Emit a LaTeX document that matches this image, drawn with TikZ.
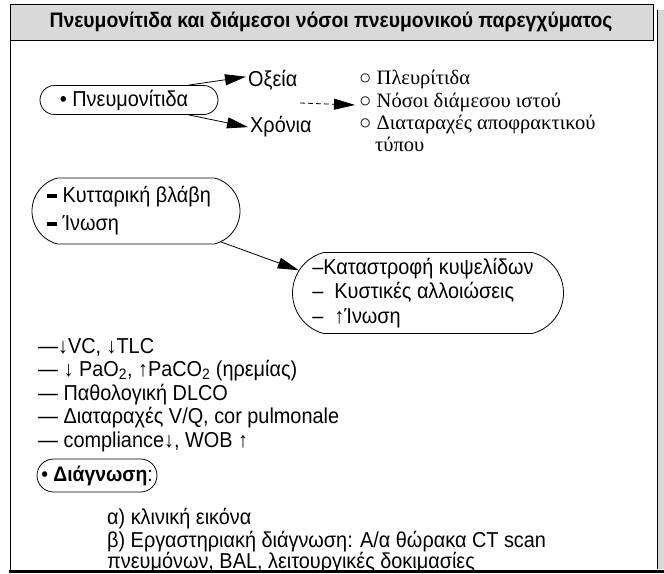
\documentclass[tikz,border=0pt]{standalone}
\usepackage{fontspec}
\setmainfont[FakeStretch=0.92]{Liberation Sans}
\newfontfamily\serifgr{Liberation Serif}
\usetikzlibrary{arrows.meta,shapes.misc,positioning}

\begin{document}
\begin{tikzpicture}[x=1pt,y=-1pt,
  txt/.style={anchor=base west,inner sep=0pt,font=\fontsize{21.6}{24}\selectfont},
  srf/.style={anchor=base west,inner sep=0pt,font=\serifgr\fontsize{20.5}{24}\selectfont},
  pill/.style={draw,thick,rounded rectangle,inner xsep=2pt,inner ysep=0pt,font=\fontsize{21.6}{24}\selectfont},
  arr/.style={-{Triangle[length=21pt,width=11pt]},thick}]

  \useasboundingbox (0,0) rectangle (664,573);

  % header band and frame
  \filldraw[fill=gray!30, draw=black, thick] (10,4) rectangle (653,40);
  \node[font=\bfseries\fontsize{21}{24}\selectfont] (title) at (331,22)
    {Πνευμονίτιδα και διάμεσοι νόσοι πνευμονικού παρεγχύματος};
  \fill[gray!30] (657,10) rectangle (664,569);
  \draw[thick] (657,10) -- (657,569);
  \draw[thick] (10,40) -- (10,571);
  \draw[line width=3pt] (9,571) -- (664,571);

  % pneumonitis and its forms
  \node[pill, minimum width=182pt, minimum height=29pt] (pneum) at (129,100)
    {\textbullet\ Πνευμονίτιδα\hspace*{10pt}};
  \node[txt] (oxeia) at (248,86) {Οξεία};
  \node[txt] (chronia) at (250,132) {Χρόνια};
  \draw[arr] (pneum.14) -- ([xshift=-2pt,yshift=3pt]oxeia.west);
  \draw[arr] (pneum.-14) -- ([xshift=-2pt,yshift=-1pt]chronia.west);

  % what it leads to
  \node[srf] (plevr) at (359,84) {○ Πλευρίτιδα};
  \node[srf] (nosoi) at (359,107) {○ Νόσοι διάμεσου ιστού};
  \node[srf] (diatar) at (359,129) {○ Διαταραχές αποφρακτικού};
  \node[srf] (typou) at (375,151) {τύπου};
  \coordinate (dsh) at (300,103);
  \draw[arr, dash pattern=on 5pt off 3pt] (dsh) -- ([xshift=-4pt,yshift=-3pt]nosoi.west);

  % lesion and its outcome
  \node[pill, rounded rectangle arc length=150, minimum width=212pt, minimum height=66pt,
    align=left, font=\fontsize{21.6}{28}\selectfont] (blabi) at (136,211)
    {\rule[5pt]{10pt}{3.5pt}\ Κυτταρική βλάβη\hspace*{14pt}\\ \rule[5pt]{10pt}{3.5pt}\ Ίνωση};
  \node[pill, rounded rectangle arc length=150, minimum width=275pt, minimum height=81pt,
    align=left, font=\fontsize{21.6}{24.5}\selectfont] (katastr) at (428,293)
    {–Καταστροφή κυψελίδων\hspace*{10pt}\\– \ Κυστικές αλλοιώσεις\\– \ ↑Ίνωση};
  \draw[arr] (blabi.-20) -- (katastr.170);

  % function findings
  \node[txt] (vc) at (38,353) {—↓VC, ↓TLC};
  \node[txt] (pao) at (38,376) {— ↓ PaO\textsubscript{2}, ↑PaCO\textsubscript{2} (ηρεμίας)};
  \node[txt] (dlco) at (38,400) {— Παθολογική DLCO};
  \node[txt] (vq) at (38,423) {— Διαταραχές V/Q, cor pulmonale};
  \node[txt] (compl) at (38,447) {— compliance↓, WOB ↑};

  % diagnosis
  \node[pill, minimum width=124pt, minimum height=33pt, font=\fontsize{21}{24}\selectfont]
    (diag) at (97,475.5) {\textbullet\ \textbf{Διάγνωση}:};
  \node[txt] (klin) at (107,524) {α) κλινική εικόνα};
  \node[txt] (ergast) at (107,547) {β) Εργαστηριακή διάγνωση: Α/α θώρακα CT scan};
  \node[txt] (pnevm) at (107,568) {πνευμόνων, BAL, λειτουργικές δοκιμασίες};

\end{tikzpicture}
\end{document}
